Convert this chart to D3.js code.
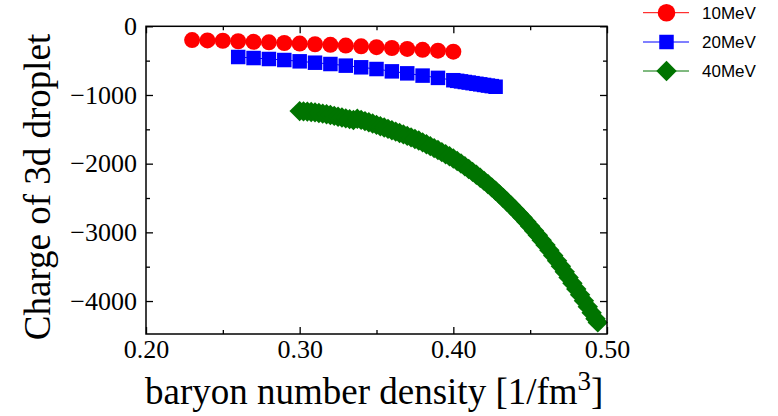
<!DOCTYPE html>
<html>
<head>
<meta charset="utf-8">
<script src="https://cdn.jsdelivr.net/npm/d3@7"></script>
<style>
  body { margin: 0; background: #fff; }
  svg { display: block; }
</style>
</head>
<body>
<svg id="chart" width="778" height="416"></svg>
<script>
// Droplet charge versus baryon number density, three temperatures.
const density10 = [0.23, 0.24, 0.25, 0.26, 0.27, 0.28, 0.29, 0.30, 0.31, 0.32,
                   0.33, 0.34, 0.35, 0.36, 0.37, 0.38, 0.39, 0.40];
const charge10 = [-200, -205, -210, -218, -226, -234, -243, -252, -261, -270,
                  -281, -292, -304, -316, -329, -342, -355, -369];

const density20 = [0.26, 0.27, 0.28, 0.29, 0.30, 0.31, 0.32, 0.33, 0.34, 0.35,
                   0.36, 0.37, 0.38, 0.39,
                   0.4000, 0.4025, 0.4050, 0.4075, 0.4100, 0.4125, 0.4150, 0.4175,
                   0.4200, 0.4225, 0.4250, 0.4275];
const charge20 = [-447, -462, -476, -491, -510, -530, -549, -573, -597, -622,
                  -656, -685, -718, -751,
                  -785, -794, -802, -811, -819, -828, -837, -845,
                  -854, -863, -871, -880];

const density40 = [0.3000, 0.3025, 0.3050, 0.3075, 0.3100, 0.3125, 0.3150, 0.3175,
                   0.3200, 0.3225, 0.3250, 0.3275, 0.3300, 0.3325, 0.3350, 0.3375,
                   0.3400, 0.3425, 0.3450, 0.3475, 0.3500, 0.3525, 0.3550, 0.3575,
                   0.3600, 0.3625, 0.3650, 0.3675, 0.3700, 0.3725, 0.3750, 0.3775,
                   0.3800, 0.3825, 0.3850, 0.3875, 0.3900, 0.3925, 0.3950, 0.3975,
                   0.4000, 0.4025, 0.4050, 0.4075, 0.4100, 0.4125, 0.4150, 0.4175,
                   0.4200, 0.4225, 0.4250, 0.4275, 0.4300, 0.4325, 0.4350, 0.4375,
                   0.4400, 0.4425, 0.4450, 0.4475, 0.4500, 0.4525, 0.4550, 0.4575,
                   0.4600, 0.4625, 0.4650, 0.4675, 0.4700, 0.4725, 0.4750, 0.4775,
                   0.4800, 0.4825, 0.4850, 0.4875, 0.4900, 0.4925, 0.4940];
const charge40 = [-1235, -1238, -1242, -1247, -1253, -1262, -1271, -1281,
                  -1292, -1304, -1316, -1328, -1340, -1352, -1364, -1347,
                  -1363, -1380, -1398, -1416, -1435, -1455, -1474, -1493,
                  -1513, -1533, -1553, -1574, -1595, -1617, -1640, -1663,
                  -1690, -1717, -1745, -1773, -1802, -1832, -1862, -1893,
                  -1925, -1961, -1998, -2037, -2077, -2119, -2162, -2206,
                  -2251, -2297, -2345, -2395, -2447, -2500, -2554, -2609,
                  -2666, -2724, -2784, -2846, -2910, -2976, -3044, -3114,
                  -3186, -3260, -3336, -3414, -3494, -3575, -3657, -3740,
                  -3824, -3909, -3995, -4082, -4170, -4258, -4311];

const seriesNames = ["10MeV", "20MeV", "40MeV"];
const seriesColors = ["#ff0000", "#0000ff", "#007400"];

const xMajorTicks = [0.20, 0.30, 0.40, 0.50];
const xMinorTicks = [0.25, 0.35, 0.45];
const yMajorTicks = [0, -1000, -2000, -3000, -4000];
const yMinorTicks = [-500, -1500, -2500, -3500];

const xTitle = "baryon number density [1/fm";
const xTitleSup = "3";
const xTitleEnd = "]";
const yTitle = "Charge of 3d droplet";

// ---- layout ----
const svg = d3.select("#chart");
const plot = { left: 146, right: 607, top: 26.3, bottom: 334 };

const x = d3.scaleLinear().domain([0.20, 0.50]).range([plot.left, plot.right]);
const y = d3.scaleLinear().domain([0, -4480]).range([plot.top, plot.bottom]);

const serif = "'Liberation Serif', 'Times New Roman', Times, serif";
const sans = "'Liberation Sans', Arial, Helvetica, sans-serif";

// ---- marker shapes ----
const diamondSquare = {
  draw(ctx, size) {
    const r = Math.sqrt(size / 2);
    ctx.moveTo(0, -r); ctx.lineTo(r, 0); ctx.lineTo(0, r); ctx.lineTo(-r, 0); ctx.closePath();
  }
};
const markerDefs = [
  { type: d3.symbolCircle, size: Math.PI * 8 * 8 },
  { type: d3.symbolSquare, size: 14.5 * 14.5 },
  { type: diamondSquare, size: 2 * 10.2 * 10.2 }
];

const series = [
  { xs: density10, ys: charge10 },
  { xs: density20, ys: charge20 },
  { xs: density40, ys: charge40 }
];

// ---- data ----
const dataLayer = svg.append("g");
series.forEach((s, i) => {
  const pts = s.xs.map((d, k) => [d, s.ys[k]]);
  dataLayer.append("path")
    .attr("d", d3.line().x(p => x(p[0])).y(p => y(p[1]))(pts))
    .attr("fill", "none")
    .attr("stroke", seriesColors[i])
    .attr("stroke-width", 1);
  const sym = d3.symbol().type(markerDefs[i].type).size(markerDefs[i].size);
  dataLayer.append("g").selectAll("path")
    .data(pts)
    .join("path")
    .attr("d", sym)
    .attr("transform", p => `translate(${x(p[0])},${y(p[1])})`)
    .attr("fill", seriesColors[i]);
});

// ---- axes (ticks point inward on all four sides) ----
function styleAxis(g) {
  g.select(".domain").remove();
  g.selectAll(".tick line").attr("stroke", "#000").attr("stroke-width", 1.3);
  g.selectAll("text")
    .attr("fill", "#000")
    .style("font-family", serif)
    .style("font-size", "26px");
}

svg.append("g")
  .attr("transform", `translate(0,${plot.bottom})`)
  .call(d3.axisBottom(x).tickValues(xMajorTicks).tickSize(-7).tickPadding(6)
    .tickFormat(d3.format(".2f")))
  .call(styleAxis);
svg.append("g")
  .attr("transform", `translate(0,${plot.bottom})`)
  .call(d3.axisBottom(x).tickValues(xMinorTicks).tickSize(-4).tickFormat(""))
  .call(styleAxis);
svg.append("g")
  .attr("transform", `translate(0,${plot.top})`)
  .call(d3.axisTop(x).tickValues(xMajorTicks).tickSize(-7).tickFormat(""))
  .call(styleAxis);
svg.append("g")
  .attr("transform", `translate(0,${plot.top})`)
  .call(d3.axisTop(x).tickValues(xMinorTicks).tickSize(-4).tickFormat(""))
  .call(styleAxis);

svg.append("g")
  .attr("transform", `translate(${plot.left},0)`)
  .call(d3.axisLeft(y).tickValues(yMajorTicks).tickSize(-7).tickPadding(9)
    .tickFormat(d3.format("d")))
  .call(styleAxis);
svg.append("g")
  .attr("transform", `translate(${plot.left},0)`)
  .call(d3.axisLeft(y).tickValues(yMinorTicks).tickSize(-4).tickFormat(""))
  .call(styleAxis);
svg.append("g")
  .attr("transform", `translate(${plot.right},0)`)
  .call(d3.axisRight(y).tickValues(yMajorTicks).tickSize(-7).tickFormat(""))
  .call(styleAxis);
svg.append("g")
  .attr("transform", `translate(${plot.right},0)`)
  .call(d3.axisRight(y).tickValues(yMinorTicks).tickSize(-4).tickFormat(""))
  .call(styleAxis);

// frame
svg.append("rect")
  .attr("x", plot.left).attr("y", plot.top)
  .attr("width", plot.right - plot.left).attr("height", plot.bottom - plot.top)
  .attr("fill", "none").attr("stroke", "#000").attr("stroke-width", 1.5);

// ---- axis titles ----
const xt = svg.append("text")
  .attr("x", 145).attr("y", 404)
  .style("font-family", serif).style("font-size", "37px").attr("fill", "#000");
xt.append("tspan").text(xTitle);
xt.append("tspan").attr("dy", -14).style("font-size", "27px").text(xTitleSup);
xt.append("tspan").attr("dy", 14).text(xTitleEnd);

svg.append("text")
  .attr("transform", "translate(50,187) rotate(-90)")
  .attr("text-anchor", "middle")
  .style("font-family", serif).style("font-size", "37px").attr("fill", "#000")
  .text(yTitle);

// ---- legend ----
const legendRows = [12.7, 42, 71];
const legend = svg.append("g");
seriesNames.forEach((name, i) => {
  const ly = legendRows[i];
  legend.append("line")
    .attr("x1", 643).attr("x2", 689).attr("y1", ly).attr("y2", ly)
    .attr("stroke", seriesColors[i]).attr("stroke-width", 1);
  legend.append("path")
    .attr("d", d3.symbol().type(markerDefs[i].type).size(i === 0 ? Math.PI * 8.8 * 8.8 : markerDefs[i].size)())
    .attr("transform", `translate(666.5,${ly})`)
    .attr("fill", seriesColors[i]);
  legend.append("text")
    .attr("x", 702).attr("y", ly + 6)
    .style("font-family", sans).style("font-size", "17px").attr("fill", "#000")
    .text(name);
});
</script>
</body>
</html>
